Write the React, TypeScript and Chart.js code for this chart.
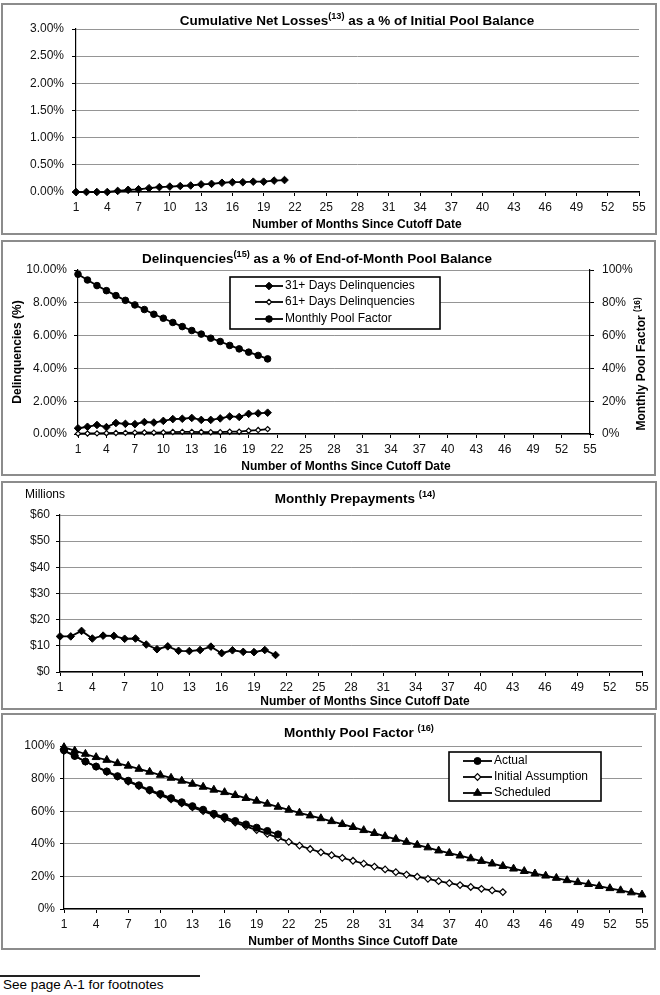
import React, { useEffect, useRef } from 'react';
import { Chart, registerables } from 'chart.js';

Chart.register(...registerables);

const FONT = "'Liberation Sans', Arial, Helvetica, sans-serif";

// ---------- DATA ----------
const months = [
  1, 2, 3, 4, 5, 6, 7, 8, 9, 10, 11, 12, 13, 14, 15, 16, 17, 18, 19, 20,
  21, 22, 23, 24, 25, 26, 27, 28, 29, 30, 31, 32, 33, 34, 35, 36, 37, 38, 39, 40,
  41, 42, 43, 44, 45, 46, 47, 48, 49, 50, 51, 52, 53, 54, 55,
];
const xTickMonths = [1, 4, 7, 10, 13, 16, 19, 22, 25, 28, 31, 34, 37, 40, 43, 46, 49, 52, 55];

// Cumulative net losses, % of initial pool balance
const cumNetLosses = [0, 0, 0, 0, 0.02, 0.04, 0.05, 0.07, 0.09, 0.1, 0.11, 0.12, 0.14, 0.15, 0.17, 0.18, 0.18, 0.19, 0.19, 0.21, 0.22];

// Delinquencies, % of end-of-month pool balance
const delinq31 = [0.35, 0.44, 0.55, 0.42, 0.67, 0.62, 0.6, 0.73, 0.7, 0.8, 0.91, 0.93, 0.98, 0.86, 0.86, 0.95, 1.07, 1.04, 1.23, 1.26, 1.3];
const delinq61 = [0.02, 0.03, 0.04, 0.05, 0.06, 0.07, 0.08, 0.09, 0.08, 0.09, 0.12, 0.13, 0.13, 0.12, 0.11, 0.11, 0.14, 0.14, 0.2, 0.24, 0.3];

// Monthly pool factor (actual), %
const poolFactorActual = [97.4, 93.9, 90.5, 87.4, 84.4, 81.5, 78.7, 75.9, 73.0, 70.6, 68.0, 65.5, 63.1, 60.9, 58.4, 56.4, 54.0, 51.9, 49.9, 47.9, 45.8];

// Monthly prepayments, $ millions
const prepayments = [13.6, 13.6, 15.7, 12.8, 13.9, 13.8, 12.7, 12.8, 10.5, 8.7, 9.8, 8.1, 8.0, 8.4, 9.7, 7.2, 8.3, 7.7, 7.6, 8.4, 6.5];

// Pool factor: initial assumption, %
const initialAssumption = [
  97.1, 93.9, 90.5, 87.3, 84.2, 81.2, 78.2, 75.4, 72.6, 69.9, 67.3, 64.8, 62.4, 60.0, 57.6, 55.3, 53.0, 50.7, 48.4, 46.1,
  43.6, 41.2, 38.9, 36.8, 34.8, 33.0, 31.4, 29.6, 27.8, 26.0, 24.3, 22.6, 21.1, 19.8, 18.5, 17.1, 15.9, 14.7, 13.5, 12.4,
  11.4, 10.4,
];

// Pool factor: scheduled, %
const scheduled = [
  99.2, 97.1, 95.1, 93.1, 91.4, 89.4, 87.8, 85.9, 84.1, 82.2, 80.4, 78.6, 76.7, 74.9, 73.1, 71.6, 69.8, 68.0, 66.3, 64.5,
  62.6, 60.8, 59.0, 57.3, 55.6, 53.8, 52.0, 50.2, 48.3, 46.5, 44.6, 42.9, 41.1, 39.3, 37.7, 35.8, 34.3, 32.7, 31.0, 29.4,
  27.8, 26.3, 24.7, 23.2, 21.7, 20.4, 19.0, 17.6, 16.4, 15.2, 14.0, 12.7, 11.4, 10.1, 8.8,
];

// ---------- TYPES ----------
type Box = { left: number; top: number; width: number; height: number };
type Area = { left: number; top: number; right: number; bottom: number };
type TextPart = { text: string; sup?: boolean };
type TextItem = {
  parts: TextPart[];
  x: number;
  y: number;
  size: number;
  bold?: boolean;
  rotate?: boolean;
  align?: 'center' | 'left';
};
type MarkerStyle = 'diamond' | 'hollowDiamond' | 'circle' | 'triangle';
type LegendItem = { label: string; marker: MarkerStyle; r: number };
type LegendSpec = {
  x1: number;
  y1: number;
  x2: number;
  y2: number;
  rows: number[];
  lineX1: number;
  lineX2: number;
  textX: number;
  items: LegendItem[];
};
type PanelSpec = {
  box: Box;
  area: Area;
  datasets: any[];
  y: any;
  y1?: any;
  texts: TextItem[];
  legend?: LegendSpec;
};

// ---------- HELPERS ----------
const toPoints = (vals: number[]) => vals.map((v, i) => ({ x: months[i], y: v }));

const lineDs = (label: string, vals: number[], marker: MarkerStyle, r: number, yAxisID = 'y') => ({
  label,
  data: toPoints(vals),
  yAxisID,
  borderColor: '#000',
  borderWidth: 1.8,
  tension: 0,
  clip: false,
  pointStyle: marker === 'circle' ? 'circle' : marker === 'triangle' ? 'triangle' : 'rectRot',
  pointRadius: r,
  pointBackgroundColor: marker === 'hollowDiamond' ? '#fff' : '#000',
  pointBorderColor: '#000',
  pointBorderWidth: marker === 'hollowDiamond' ? 1.2 : 1,
});

function drawMarker(ctx: CanvasRenderingContext2D, m: MarkerStyle, x: number, y: number, r: number) {
  ctx.beginPath();
  if (m === 'circle') {
    ctx.arc(x, y, r, 0, Math.PI * 2);
  } else if (m === 'triangle') {
    const step = (Math.PI * 2) / 3;
    for (let k = 0; k < 3; k++) {
      const a = k * step;
      const px = x + Math.sin(a) * r;
      const py = y - Math.cos(a) * r;
      if (k === 0) ctx.moveTo(px, py);
      else ctx.lineTo(px, py);
    }
    ctx.closePath();
  } else {
    ctx.moveTo(x, y - r);
    ctx.lineTo(x + r, y);
    ctx.lineTo(x, y + r);
    ctx.lineTo(x - r, y);
    ctx.closePath();
  }
  ctx.fillStyle = m === 'hollowDiamond' ? '#fff' : '#000';
  ctx.fill();
  ctx.lineWidth = m === 'hollowDiamond' ? 1.2 : 1;
  ctx.strokeStyle = '#000';
  ctx.stroke();
}

function drawText(ctx: CanvasRenderingContext2D, item: TextItem, ox: number, oy: number) {
  const w = item.bold ? 'bold ' : '';
  const mainFont = `${w}${item.size}px ${FONT}`;
  const supSize = Math.round(item.size * 0.68 * 10) / 10;
  const supFont = `${w}${supSize}px ${FONT}`;
  let total = 0;
  const widths = item.parts.map((p) => {
    ctx.font = p.sup ? supFont : mainFont;
    const mw = ctx.measureText(p.text).width;
    total += mw;
    return mw;
  });
  ctx.save();
  ctx.translate(item.x - ox, item.y - oy);
  if (item.rotate) ctx.rotate(-Math.PI / 2);
  let x = item.align === 'left' ? 0 : -total / 2;
  ctx.textBaseline = 'middle';
  ctx.textAlign = 'left';
  ctx.fillStyle = '#000';
  item.parts.forEach((p, i) => {
    ctx.font = p.sup ? supFont : mainFont;
    ctx.fillText(p.text, x, p.sup ? -item.size * 0.32 : 0);
    x += widths[i];
  });
  ctx.restore();
}

function buildConfig(spec: PanelSpec): any {
  const { box, area } = spec;
  const tickFont = { family: FONT, size: 12 };
  const overlay = {
    id: 'overlay',
    afterDraw(chart: any) {
      const ctx: CanvasRenderingContext2D = chart.ctx;
      const ox = box.left;
      const oy = box.top;
      spec.texts.forEach((t) => drawText(ctx, t, ox, oy));
      const lg = spec.legend;
      if (lg) {
        ctx.save();
        ctx.fillStyle = '#fff';
        ctx.fillRect(lg.x1 - ox, lg.y1 - oy, lg.x2 - lg.x1, lg.y2 - lg.y1);
        ctx.lineWidth = 1.6;
        ctx.strokeStyle = '#000';
        ctx.strokeRect(lg.x1 - ox, lg.y1 - oy, lg.x2 - lg.x1, lg.y2 - lg.y1);
        lg.items.forEach((it, i) => {
          const ry = lg.rows[i] - oy;
          ctx.beginPath();
          ctx.moveTo(lg.lineX1 - ox, ry);
          ctx.lineTo(lg.lineX2 - ox, ry);
          ctx.lineWidth = 1.8;
          ctx.strokeStyle = '#000';
          ctx.stroke();
          drawMarker(ctx, it.marker, (lg.lineX1 + lg.lineX2) / 2 - ox, ry, it.r);
          ctx.font = `12px ${FONT}`;
          ctx.fillStyle = '#000';
          ctx.textAlign = 'left';
          ctx.textBaseline = 'middle';
          ctx.fillText(it.label, lg.textX - ox, ry);
        });
        ctx.restore();
      }
    },
  };

  const scales: any = {
    x: {
      type: 'linear',
      min: 1,
      max: 55,
      afterBuildTicks: (s: any) => {
        s.ticks = xTickMonths.map((v) => ({ value: v }));
      },
      afterFit: (s: any) => {
        s.height = box.top + box.height - area.bottom;
      },
      grid: { drawOnChartArea: false, drawTicks: true, tickLength: 4, tickColor: '#000', lineWidth: 1 },
      border: { color: '#000', width: 1.2 },
      ticks: { font: tickFont, color: '#111', padding: 4, maxRotation: 0, autoSkip: false, callback: (v: any) => String(v) },
    },
    y: {
      position: 'left',
      ...spec.y,
      afterFit: (s: any) => {
        s.width = area.left - box.left;
      },
      grid: { color: '#959595', lineWidth: 1, drawTicks: true, tickLength: 4, tickColor: '#000' },
      border: { color: '#000', width: 1.2 },
      ticks: { font: tickFont, color: '#111', padding: spec.y.pad, stepSize: spec.y.step, callback: spec.y.fmt },
    },
  };
  if (spec.y1) {
    scales.y1 = {
      position: 'right',
      ...spec.y1,
      afterFit: (s: any) => {
        s.width = box.left + box.width - area.right;
      },
      grid: { drawOnChartArea: false, drawTicks: true, tickLength: 4, tickColor: '#000' },
      border: { color: '#000', width: 1.2 },
      ticks: { font: tickFont, color: '#111', padding: spec.y1.pad, stepSize: spec.y1.step, callback: spec.y1.fmt },
    };
  }

  return {
    type: 'line',
    data: { datasets: spec.datasets },
    options: {
      responsive: false,
      animation: false,
      events: [],
      layout: {
        padding: {
          left: 0,
          top: area.top - box.top,
          right: spec.y1 ? 0 : box.left + box.width - area.right,
          bottom: 0,
        },
      },
      plugins: { legend: { display: false }, title: { display: false }, tooltip: { enabled: false } },
      scales,
    },
    plugins: [overlay],
  };
}

const xTitle = (x: number, y: number): TextItem => ({
  parts: [{ text: 'Number of Months Since Cutoff Date' }],
  x,
  y,
  size: 12,
  bold: true,
});

// ---------- PANELS ----------
const panels: PanelSpec[] = [
  {
    box: { left: 1, top: 3, width: 656, height: 232 },
    area: { left: 76, top: 29, right: 639, bottom: 192 },
    datasets: [lineDs('Cumulative Net Losses', cumNetLosses, 'diamond', 3.8)],
    y: { min: 0, max: 3, step: 0.5, pad: 8, fmt: (v: any) => Number(v).toFixed(2) + '%' },
    texts: [
      {
        parts: [{ text: 'Cumulative Net Losses' }, { text: '(13)', sup: true }, { text: ' as a % of Initial Pool Balance' }],
        x: 357,
        y: 21,
        size: 13.5,
        bold: true,
      },
      xTitle(357, 225),
    ],
  },
  {
    box: { left: 1, top: 240, width: 655, height: 236 },
    area: { left: 78, top: 270, right: 590, bottom: 434 },
    datasets: [
      lineDs('31+ Days Delinquencies', delinq31, 'diamond', 3.8),
      lineDs('61+ Days Delinquencies', delinq61, 'hollowDiamond', 2.6),
      lineDs('Monthly Pool Factor', poolFactorActual, 'circle', 3.3, 'y1'),
    ],
    y: { min: 0, max: 10, step: 2, pad: 7, fmt: (v: any) => Number(v).toFixed(2) + '%' },
    y1: { min: 0, max: 100, step: 20, pad: 8, fmt: (v: any) => v + '%' },
    texts: [
      {
        parts: [{ text: 'Delinquencies' }, { text: '(15)', sup: true }, { text: ' as a % of End-of-Month Pool Balance' }],
        x: 317,
        y: 259,
        size: 13.5,
        bold: true,
      },
      xTitle(346, 467),
      { parts: [{ text: 'Delinquencies (%)' }], x: 18, y: 352, size: 12, bold: true, rotate: true },
      {
        parts: [{ text: 'Monthly Pool Factor ' }, { text: '(16)', sup: true }],
        x: 642,
        y: 364,
        size: 12,
        bold: true,
        rotate: true,
      },
    ],
    legend: {
      x1: 230,
      y1: 277,
      x2: 440,
      y2: 329,
      rows: [286, 302, 319],
      lineX1: 255,
      lineX2: 283,
      textX: 285,
      items: [
        { label: '31+ Days Delinquencies', marker: 'diamond', r: 3.8 },
        { label: '61+ Days Delinquencies', marker: 'hollowDiamond', r: 2.6 },
        { label: 'Monthly Pool Factor', marker: 'circle', r: 3.3 },
      ],
    },
  },
  {
    box: { left: 1, top: 481, width: 656, height: 229 },
    area: { left: 60, top: 515, right: 642, bottom: 672 },
    datasets: [lineDs('Monthly Prepayments', prepayments, 'diamond', 3.8)],
    y: { min: 0, max: 60, step: 10, pad: 6, fmt: (v: any) => '$' + v },
    texts: [
      {
        parts: [{ text: 'Monthly Prepayments ' }, { text: '(14)', sup: true }],
        x: 355,
        y: 499,
        size: 13.5,
        bold: true,
      },
      { parts: [{ text: 'Millions' }], x: 25, y: 495, size: 12, align: 'left' },
      xTitle(365, 702),
    ],
  },
  {
    box: { left: 1, top: 713, width: 655, height: 237 },
    area: { left: 64, top: 746, right: 642, bottom: 909 },
    datasets: [
      lineDs('Actual', poolFactorActual, 'circle', 3.5),
      lineDs('Initial Assumption', initialAssumption, 'hollowDiamond', 3.3),
      lineDs('Scheduled', scheduled, 'triangle', 4.6),
    ],
    y: { min: 0, max: 100, step: 20, pad: 5, fmt: (v: any) => v + '%' },
    texts: [
      {
        parts: [{ text: 'Monthly Pool Factor ' }, { text: '(16)', sup: true }],
        x: 359,
        y: 733,
        size: 13.5,
        bold: true,
      },
      xTitle(353, 942),
    ],
    legend: {
      x1: 449,
      y1: 752,
      x2: 601,
      y2: 801,
      rows: [761, 777, 793],
      lineX1: 463,
      lineX2: 492,
      textX: 494,
      items: [
        { label: 'Actual', marker: 'circle', r: 3.5 },
        { label: 'Initial Assumption', marker: 'hollowDiamond', r: 3.3 },
        { label: 'Scheduled', marker: 'triangle', r: 4.6 },
      ],
    },
  },
];

function Panel({ spec }: { spec: PanelSpec }) {
  const ref = useRef<HTMLCanvasElement>(null);
  useEffect(() => {
    if (!ref.current) return;
    const chart = new Chart(ref.current, buildConfig(spec));
    return () => chart.destroy();
  }, [spec]);
  const { box } = spec;
  return (
    <>
      <canvas
        ref={ref}
        width={box.width}
        height={box.height}
        style={{ position: 'absolute', left: box.left, top: box.top, width: box.width, height: box.height }}
      />
      <div
        style={{
          position: 'absolute',
          left: box.left,
          top: box.top,
          width: box.width,
          height: box.height,
          boxSizing: 'border-box',
          border: '2px solid #8c8c8c',
          pointerEvents: 'none',
        }}
      />
    </>
  );
}

export default function App() {
  return (
    <div style={{ position: 'absolute', left: 0, top: 0, width: 660, height: 995, background: '#fff', overflow: 'hidden' }}>
      {panels.map((p, i) => (
        <Panel key={i} spec={p} />
      ))}
      <div style={{ position: 'absolute', left: 0, top: 975, width: 200, height: 2, background: '#222' }} />
      <div
        style={{
          position: 'absolute',
          left: 3,
          top: 977,
          fontFamily: FONT,
          fontSize: 13.5,
          lineHeight: '16px',
          color: '#000',
          whiteSpace: 'nowrap',
        }}
      >
        See page A-1 for footnotes
      </div>
    </div>
  );
}
